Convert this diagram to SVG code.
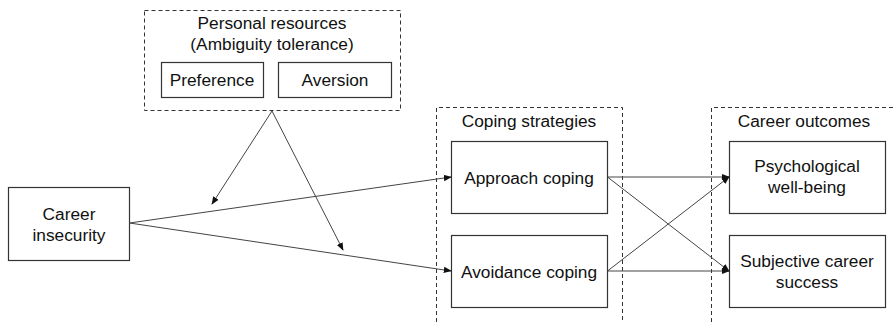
<svg xmlns="http://www.w3.org/2000/svg" width="896" height="322" viewBox="0 0 896 322">
<defs>
<style>
.bg{fill:#fff}
.node{fill:#fff;stroke:#333;stroke-width:1.2}
.group{fill:none;stroke:#333;stroke-width:1;stroke-dasharray:4 3}
.t{font-family:"Liberation Sans",Arial,sans-serif;font-size:17.3px;fill:#111;text-anchor:middle}
.edge{stroke:#444;stroke-width:1;fill:none;marker-end:url(#arr)}
</style>
<marker id="arr" viewBox="0 0 10 10" refX="9" refY="5" markerWidth="8" markerHeight="8" markerUnits="userSpaceOnUse" orient="auto">
<path d="M0,1 L10,5 L0,9 z" fill="#111"/>
</marker>
</defs>
<rect class="bg" x="0" y="0" width="896" height="322"/>
<g id="personal-resources">
<rect class="group" x="144.5" y="10.5" width="256" height="100"/>
<text class="t" x="272" y="29">Personal resources</text>
<text class="t" x="272" y="50">(Ambiguity tolerance)</text>
</g>
<g id="preference">
<rect class="node" x="161.5" y="62.5" width="102" height="35"/>
<text class="t" x="212" y="86">Preference</text>
</g>
<g id="aversion">
<rect class="node" x="278.5" y="62.5" width="113" height="35"/>
<text class="t" x="335" y="86">Aversion</text>
</g>
<g id="coping-strategies">
<path class="group" d="M436.5,322 V107.5 H622.5 V322"/>
<text class="t" x="529" y="127">Coping strategies</text>
</g>
<g id="career-outcomes">
<path class="group" d="M711.5,322 V107.5 H896"/>
<text class="t" x="804" y="127">Career outcomes</text>
</g>
<g id="career-insecurity">
<rect class="node" x="8.5" y="187.5" width="121" height="73"/>
<text class="t" x="69" y="220">Career</text>
<text class="t" x="69" y="241">insecurity</text>
</g>
<g id="approach-coping">
<rect class="node" x="451.5" y="141.5" width="156" height="72"/>
<text class="t" x="529" y="184">Approach coping</text>
</g>
<g id="avoidance-coping">
<rect class="node" x="451.5" y="235.5" width="156" height="72"/>
<text class="t" x="529" y="278">Avoidance coping</text>
</g>
<g id="psychological-well-being">
<rect class="node" x="729.5" y="141.5" width="156" height="72"/>
<text class="t" x="807" y="172">Psychological</text>
<text class="t" x="807" y="193">well-being</text>
</g>
<g id="subjective-career-success">
<rect class="node" x="729.5" y="235.5" width="156" height="72"/>
<text class="t" x="807" y="267">Subjective career</text>
<text class="t" x="807" y="288">success</text>
</g>
<g id="connectors">
<line class="edge" x1="129.5" y1="223" x2="451" y2="177"/>
<line class="edge" x1="129.5" y1="223" x2="451" y2="271"/>
<line class="edge" x1="272" y1="111" x2="212" y2="204"/>
<line class="edge" x1="272" y1="111" x2="343" y2="250"/>
<line class="edge" x1="607.5" y1="177" x2="729" y2="177"/>
<line class="edge" x1="607.5" y1="177" x2="729" y2="271"/>
<line class="edge" x1="607.5" y1="271" x2="729" y2="177"/>
<line class="edge" x1="607.5" y1="271" x2="729" y2="271"/>
</g>
</svg>
